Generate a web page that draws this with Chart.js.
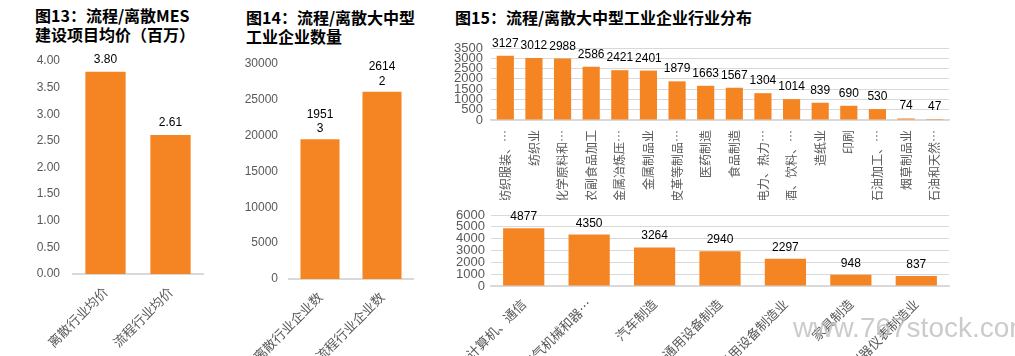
<!DOCTYPE html>
<html>
<head>
<meta charset="utf-8">
<script src="https://cdn.jsdelivr.net/npm/chart.js@4/dist/chart.umd.min.js"></script>
<style>
  html, body { margin:0; padding:0; background:#fff; width:1015px; height:356px; overflow:hidden; }
  .title { position:absolute; font-family:"Noto Sans CJK SC", sans-serif; font-weight:bold; font-size:16px; line-height:19px; color:#000; white-space:nowrap; }
  canvas { position:absolute; }
  .wm { position:absolute; left:793px; top:314px; font-family:"Liberation Sans", Arial, sans-serif; font-size:28px; line-height:28px; color:rgba(190,190,190,0.8); white-space:nowrap; pointer-events:none; }
</style>
</head>
<body>
<div class="title" style="left:35px; top:6px;">图13：流程/离散MES<br>建设项目均价（百万）</div>
<div class="title" style="left:246px; top:8px;">图14：流程/离散大中型<br>工业企业数量</div>
<div class="title" style="left:455px; top:8px;">图15：流程/离散大中型工业企业行业分布</div>

<canvas id="c13" width="200" height="316" style="left:20px; top:40px; width:200px; height:316px;"></canvas>
<canvas id="c14" width="200" height="316" style="left:230px; top:40px; width:200px; height:316px;"></canvas>
<canvas id="c15a" width="565" height="170" style="left:450px; top:30px; width:565px; height:170px;"></canvas>
<canvas id="c15b" width="565" height="156" style="left:450px; top:200px; width:565px; height:156px;"></canvas>

<div class="wm">www.767stock.com</div>

<script>
// ---- Data ----
const fig13Categories = ['离散行业均价', '流程行业均价'];
const fig13Values = [3.80, 2.61];

const fig14Categories = ['离散行业企业数', '流程行业企业数'];
const fig14Values = [19513, 26142];

const fig15aCategories = ['纺织服装、…', '纺织业', '化学原料和…', '农副食品加工', '金属冶炼压…', '金属制品业', '皮革等制品…', '医药制造', '食品制造', '电力、热力…', '酒、饮料、…', '造纸业', '印刷', '石油加工、…', '烟草制品业', '石油和天然…'];
const fig15aValues = [3127, 3012, 2988, 2586, 2421, 2401, 1879, 1663, 1567, 1304, 1014, 839, 690, 530, 74, 47];

const fig15bCategories = ['计算机、通信', '电气机械和器…', '汽车制造', '通用设备制造', '专用设备制造业', '家具制造', '仪器仪表制造业'];
const fig15bValues = [4877, 4350, 3264, 2940, 2297, 948, 837];

// ---- Styles ----
const ORANGE = '#F58523';
const AXIS = '#d9d9d9';
const TICK = '#595959';
const NUMFONT = '"Liberation Sans", Arial, sans-serif';
const CJKFONT = '"Noto Sans CJK SC", "Liberation Sans", sans-serif';

function valueLabels(format, gap, lineHeight) {
  return {
    id: 'valueLabels',
    afterDatasetsDraw(chart) {
      const ctx = chart.ctx;
      const meta = chart.getDatasetMeta(0);
      ctx.save();
      ctx.font = '12px ' + NUMFONT;
      ctx.fillStyle = '#000';
      ctx.textAlign = 'center';
      ctx.textBaseline = 'alphabetic';
      meta.data.forEach((bar, i) => {
        const lines = format(chart.data.datasets[0].data[i]);
        let y = bar.y - gap;
        for (let k = lines.length - 1; k >= 0; k--) {
          ctx.fillText(lines[k], bar.x, y);
          y -= lineHeight;
        }
      });
      ctx.restore();
    }
  };
}

function makeChart(id, cats, vals, o) {
  return new Chart(document.getElementById(id), {
    type: 'bar',
    data: { labels: cats, datasets: [{ data: vals, backgroundColor: ORANGE, borderWidth: 0, barPercentage: o.barPct, categoryPercentage: 1 }] },
    options: {
      responsive: false,
      animation: false,
      devicePixelRatio: 1,
      layout: { padding: o.padding },
      plugins: { legend: { display: false }, tooltip: { enabled: false } },
      scales: {
        x: {
          grid: { display: false },
          border: { display: true, color: AXIS, width: o.axisWidth || 1.5 },
          ticks: { autoSkip: false, minRotation: o.rot, maxRotation: o.rot, color: TICK, font: { family: CJKFONT, size: o.xFont }, padding: 2 },
          afterFit: s => { s.height = o.xHeight; }
        },
        y: {
          min: 0, max: o.max,
          grid: { display: o.grid, color: AXIS, lineWidth: 1, drawTicks: false },
          border: { display: false },
          ticks: { stepSize: o.step, autoSkip: false, color: TICK, padding: o.tickPad, font: { family: NUMFONT, size: o.yFont }, callback: o.yFmt },
          afterFit: s => { s.width = o.yWidth; }
        }
      }
    },
    plugins: [valueLabels(o.fmt, o.gap, o.lh || 14)]
  });
}

makeChart('c13', fig13Categories, fig13Values, {
  padding: { left: 0, right: 17, top: 21, bottom: 0 },
  barPct: 0.62, rot: 45, xFont: 13, xHeight: 82, max: 4, step: 0.5, grid: false,
  tickPad: 13, yFont: 12, yWidth: 53, yFmt: v => Number(v).toFixed(2),
  fmt: v => [v.toFixed(2)], gap: 9, axisWidth: 2
});

makeChart('c14', fig14Categories, fig14Values, {
  padding: { left: 0, right: 17, top: 24, bottom: 0 },
  barPct: 0.63, rot: 45, xFont: 13, xHeight: 77, max: 30000, step: 5000, grid: false,
  tickPad: 11, yFont: 12, yWidth: 59, yFmt: v => String(v),
  fmt: v => { const s = String(v); return s.length > 4 ? [s.slice(0, 4), s.slice(4)] : [s]; }, gap: 7, lh: 14.5, axisWidth: 2
});

makeChart('c15a', fig15aCategories, fig15aValues, {
  padding: { left: 0, right: 66, top: 18, bottom: 0 },
  barPct: 0.6, rot: 90, xFont: 12, xHeight: 80, max: 3500, step: 500, grid: true,
  tickPad: 8, yFont: 13, yWidth: 41, yFmt: v => String(v),
  fmt: v => [String(v)], gap: 9
});

makeChart('c15b', fig15bCategories, fig15bValues, {
  padding: { left: 0, right: 66, top: 15, bottom: 0 },
  barPct: 0.63, rot: 45, xFont: 13, xHeight: 70, max: 6000, step: 1000, grid: true,
  tickPad: 6, yFont: 13, yWidth: 41, yFmt: v => String(v),
  fmt: v => [String(v)], gap: 8
});
</script>
</body>
</html>
